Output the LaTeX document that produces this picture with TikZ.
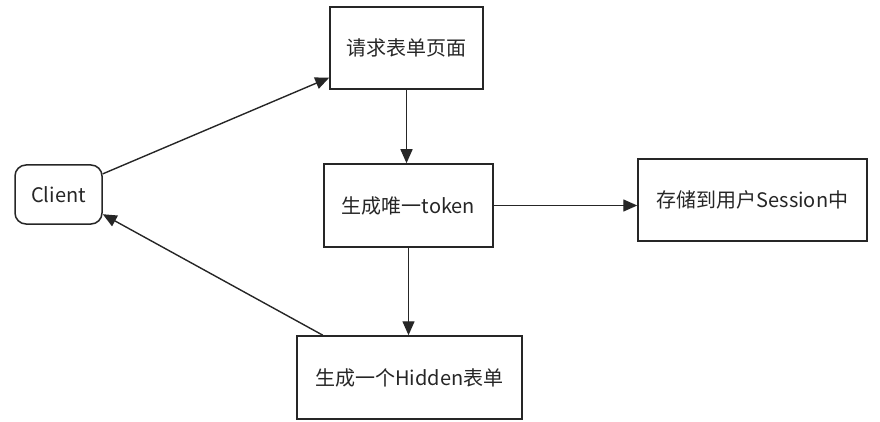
\documentclass[tikz,border=0pt]{standalone}
\usepackage{fontspec}
\setmainfont{Noto Sans CJK SC}
\usetikzlibrary{arrows.meta,calc}
\begin{document}
\begin{tikzpicture}[x=1pt,y=-1pt,
  box/.style={draw=black!85,line width=1.5pt,rectangle,inner sep=0pt,
    font=\fontsize{20}{24}\selectfont,text=black!85},
  conn/.style={draw=black!85,line width=1.4pt,-{Triangle[length=14pt,width=12pt]}}]
\useasboundingbox (0,0) rectangle (880,422);
\node[box,rounded corners=11pt,minimum width=87pt,minimum height=59pt] (client) at (58.5,194.5) {Client};
\node[box,minimum width=153pt,minimum height=82pt] (req) at (406.5,48) {请求表单页面};
\node[box,minimum width=169pt,minimum height=83pt] (tok) at (408.5,205.5) {生成唯一token};
\node[box,minimum width=229pt,minimum height=82pt] (ses) at (752.5,200) {存储到用户Session中};
\node[box,minimum width=225pt,minimum height=83pt] (hid) at (409.5,377.5) {生成一个Hidden表单};
\draw[conn] (client.25) -- (req.201);
\draw[conn] (req.south) -- (req.south |- tok.north);
\draw[conn] (tok.east) -- (tok.east -| ses.west);
\draw[conn] (tok.south) -- (tok.south |- hid.north);
\draw[conn] (hid.154) -- (client.-24);
\end{tikzpicture}
\end{document}
